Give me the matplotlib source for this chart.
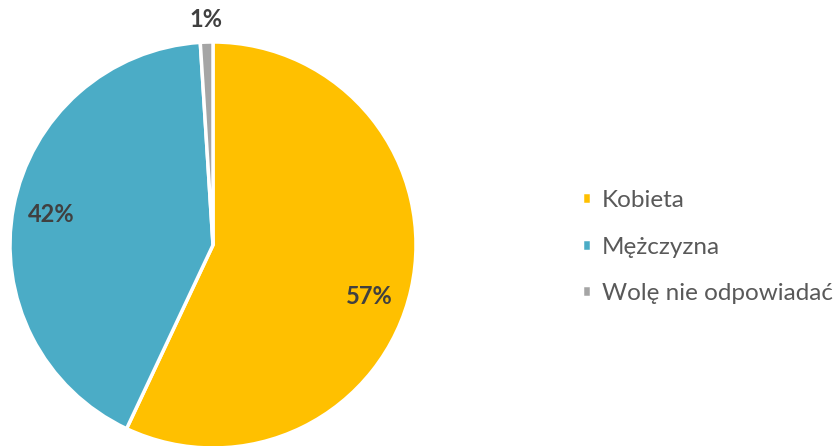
import numpy as np
import matplotlib.pyplot as plt

plt.rcParams['font.family'] = ['Lato', 'DejaVu Sans']

categories = ['Kobieta', 'Mężczyzna', 'Wolę nie odpowiadać']
shares = [57, 42, 1]
colors = ['#FFC000', '#4BACC6', '#A5A5A5']

fig = plt.figure(figsize=(8.38, 4.46), dpi=100)
# pie centre ~ (213, 245) px from top, radius ~203 px
ax = fig.add_axes([10 / 838, -2 / 446, 406 / 838, 406 / 446])
wedges, _ = ax.pie(shares, colors=colors, startangle=90, counterclock=False,
                   radius=1.0, wedgeprops=dict(edgecolor='white', linewidth=2.5))
ax.set_xlim(-1, 1)
ax.set_ylim(-1, 1)
ax.set_aspect('equal')
ax.axis('off')

# label placement (radius, angle shift in degrees) per slice
label_pos = [(0.81, -5.5), (0.81, 0.0), (1.11, 0.0)]
for w, v, (r, shift) in zip(wedges, shares, label_pos):
    ang = np.deg2rad((w.theta1 + w.theta2) / 2 + shift)
    ax.text(r * np.cos(ang), r * np.sin(ang), f'{v}%', ha='center', va='center',
            fontsize=17, fontweight='bold', color='#404040', clip_on=False)

leg = fig.legend(wedges, categories, loc='center left',
                 bbox_to_anchor=(582 / 838, (446 - 247) / 446), frameon=False,
                 fontsize=17.5, labelcolor='#595959', handlelength=0.38,
                 handleheight=0.38, handletextpad=0.45, labelspacing=1.05,
                 borderaxespad=0, borderpad=0)

fig.savefig('out.png', dpi=100)
